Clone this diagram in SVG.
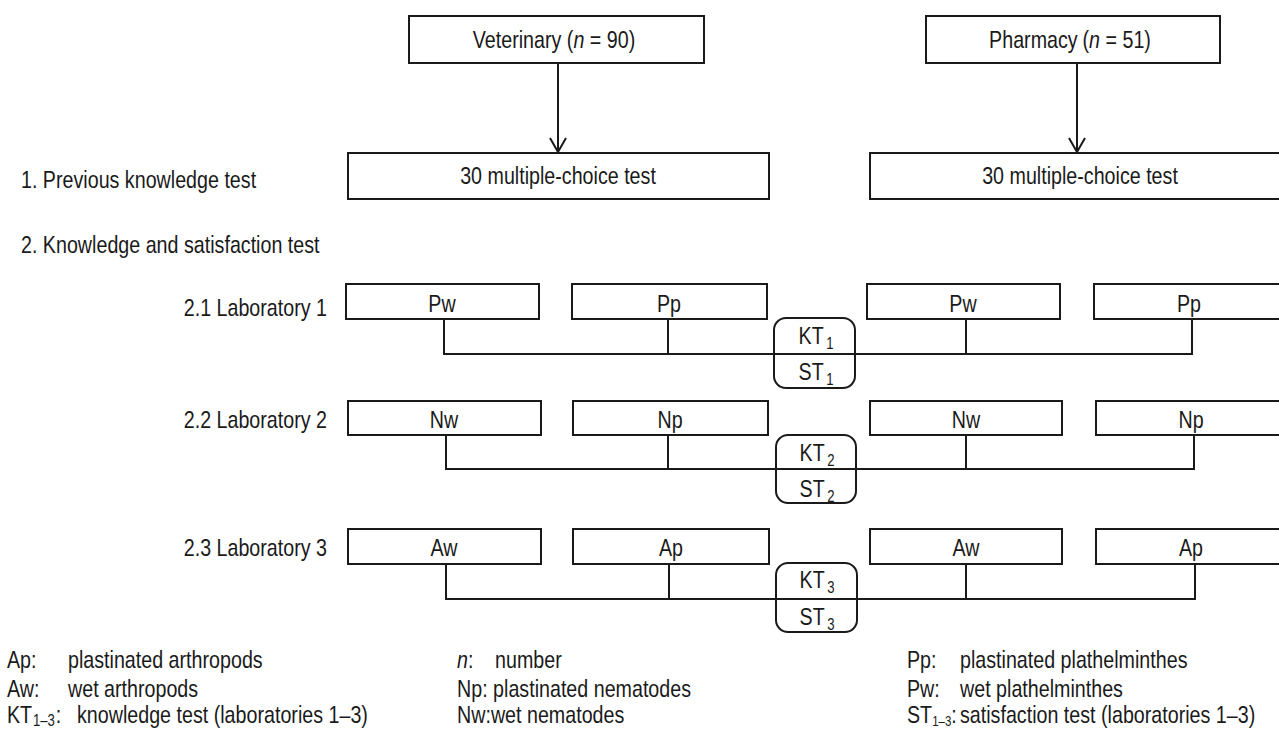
<svg xmlns="http://www.w3.org/2000/svg" width="1279" height="729" viewBox="0 0 1279 729">
<defs>
<style>
text{font-family:"Liberation Sans",Arial,sans-serif;font-size:24px;fill:#1a1a1a}
.box{fill:#fff;stroke:#1a1a1a;stroke-width:2}
.rb{fill:none;stroke:#1a1a1a;stroke-width:2}
.ln{fill:none;stroke:#1a1a1a;stroke-width:2}
.c{text-anchor:middle}
.r{text-anchor:end}
.sub{font-size:16px}
.lsub{font-size:14px}
</style>
<marker id="arr" viewBox="0 0 20 20" refX="16" refY="10" markerWidth="20" markerHeight="20" markerUnits="userSpaceOnUse" orient="auto">
<path d="M2,2 L16,10 L2,18" fill="none" stroke="#1a1a1a" stroke-width="2"/>
</marker>
</defs>
<rect width="1279" height="729" fill="#fff"/>

<g id="labels">
<text transform="matrix(.82 0 0 1 21 188)">1. Previous knowledge test</text>
<text transform="matrix(.82 0 0 1 21 253)">2. Knowledge and satisfaction test</text>
<text class="r" transform="matrix(.82 0 0 1 327 316)">2.1 Laboratory 1</text>
<text class="r" transform="matrix(.82 0 0 1 327 428)">2.2 Laboratory 2</text>
<text class="r" transform="matrix(.82 0 0 1 327 556)">2.3 Laboratory 3</text>
</g>

<g id="vet"><rect class="box" x="409" y="16" width="295" height="47"/><text class="c" transform="matrix(.82 0 0 1 554 48)">Veterinary (<tspan font-style="italic">n</tspan> = 90)</text></g>
<g id="pharm"><rect class="box" x="926" y="16" width="294" height="47"/><text class="c" transform="matrix(.82 0 0 1 1070 48)">Pharmacy<tspan dx="6">(</tspan><tspan font-style="italic">n</tspan> = 51)</text></g>
<g id="test-vet"><rect class="box" x="348" y="153" width="421" height="46"/><text class="c" transform="matrix(.82 0 0 1 558 184)">30 multiple-choice test</text></g>
<g id="test-pharm"><rect class="box" x="870" y="153" width="430" height="46"/><text class="c" transform="matrix(.82 0 0 1 1080 184)">30 multiple-choice test</text></g>

<g id="connectors">
<line class="ln" x1="558" y1="63" x2="558" y2="152" marker-end="url(#arr)"/>
<line class="ln" x1="1077" y1="63" x2="1077" y2="152" marker-end="url(#arr)"/>
<path class="ln" d="M444,319 V354 H1192 V319 M668,319 V354 M966,319 V354"/>
<path class="ln" d="M446,435 V469 H1194 V435 M668,435 V469 M966,435 V469"/>
<path class="ln" d="M446,564 V599 H1195 V564 M669,564 V599 M966,564 V599"/>
</g>

<g id="lab1">
<g id="l1-pw"><rect class="box" x="346" y="284" width="193" height="35"/><text class="c" transform="matrix(.82 0 0 1 442 312)">Pw</text></g>
<g id="l1-pp"><rect class="box" x="572" y="284" width="195" height="35"/><text class="c" transform="matrix(.82 0 0 1 669 312)">Pp</text></g>
<g id="l1-pw2"><rect class="box" x="867" y="284" width="193" height="35"/><text class="c" transform="matrix(.82 0 0 1 963 312)">Pw</text></g>
<g id="l1-pp2"><rect class="box" x="1094" y="284" width="200" height="35"/><text class="c" transform="matrix(.82 0 0 1 1189 312)">Pp</text></g>
<g id="l1-kst"><rect class="rb" x="774" y="318" width="81" height="70" rx="12"/><text class="c" transform="matrix(.82 0 0 1 816 344)">KT<tspan class="sub" dx="3" dy="5">1</tspan></text><text class="c" transform="matrix(.82 0 0 1 816 380)">ST<tspan class="sub" dx="3" dy="5">1</tspan></text></g>
</g>

<g id="lab2">
<g id="l2-nw"><rect class="box" x="348" y="401" width="193" height="34"/><text class="c" transform="matrix(.82 0 0 1 444 428)">Nw</text></g>
<g id="l2-np"><rect class="box" x="573" y="401" width="195" height="34"/><text class="c" transform="matrix(.82 0 0 1 670 428)">Np</text></g>
<g id="l2-nw2"><rect class="box" x="870" y="401" width="192" height="34"/><text class="c" transform="matrix(.82 0 0 1 966 428)">Nw</text></g>
<g id="l2-np2"><rect class="box" x="1096" y="401" width="200" height="34"/><text class="c" transform="matrix(.82 0 0 1 1191 428)">Np</text></g>
<g id="l2-kst"><rect class="rb" x="776" y="435" width="80" height="68" rx="12"/><text class="c" transform="matrix(.82 0 0 1 817 461)">KT<tspan class="sub" dx="3" dy="5">2</tspan></text><text class="c" transform="matrix(.82 0 0 1 817 497)">ST<tspan class="sub" dx="3" dy="5">2</tspan></text></g>
</g>

<g id="lab3">
<g id="l3-aw"><rect class="box" x="348" y="529" width="193" height="35"/><text class="c" transform="matrix(.82 0 0 1 444 556)">Aw</text></g>
<g id="l3-ap"><rect class="box" x="573" y="529" width="196" height="35"/><text class="c" transform="matrix(.82 0 0 1 671 556)">Ap</text></g>
<g id="l3-aw2"><rect class="box" x="870" y="529" width="192" height="35"/><text class="c" transform="matrix(.82 0 0 1 966 556)">Aw</text></g>
<g id="l3-ap2"><rect class="box" x="1096" y="529" width="200" height="35"/><text class="c" transform="matrix(.82 0 0 1 1191 556)">Ap</text></g>
<g id="l3-kst"><rect class="rb" x="776" y="563" width="81" height="69" rx="12"/><text class="c" transform="matrix(.82 0 0 1 817 588)">KT<tspan class="sub" dx="3" dy="5">3</tspan></text><text class="c" transform="matrix(.82 0 0 1 817 625)">ST<tspan class="sub" dx="3" dy="5">3</tspan></text></g>
</g>

<g id="legend">
<text transform="matrix(.82 0 0 1 7 668)">Ap:</text><text transform="matrix(.82 0 0 1 68 668)">plastinated arthropods</text>
<text transform="matrix(.82 0 0 1 7 697)">Aw:</text><text transform="matrix(.82 0 0 1 68 697)">wet arthropods</text>
<text transform="matrix(.82 0 0 1 7 723)">KT<tspan class="sub" dx="1" dy="3">1–3</tspan><tspan dx="1" dy="-3">:</tspan></text><text transform="matrix(.82 0 0 1 77 723)">knowledge test (laboratories 1–3)</text>
<text transform="matrix(.82 0 0 1 457 668)"><tspan font-style="italic">n</tspan>:</text><text transform="matrix(.82 0 0 1 495 668)">number</text>
<text transform="matrix(.82 0 0 1 457 697)">Np: plastinated nematodes</text>
<text transform="matrix(.82 0 0 1 457 723)">Nw:wet nematodes</text>
<text transform="matrix(.82 0 0 1 907 668)">Pp:</text><text transform="matrix(.82 0 0 1 960 668)">plastinated plathelminthes</text>
<text transform="matrix(.82 0 0 1 907 697)">Pw:</text><text transform="matrix(.82 0 0 1 960 697)">wet plathelminthes</text>
<text transform="matrix(.82 0 0 1 907 723)">ST<tspan class="lsub" dy="3">1–3</tspan><tspan dy="-3">:</tspan></text><text transform="matrix(.82 0 0 1 960 723)">satisfaction test (laboratories 1–3)</text>
</g>
</svg>
